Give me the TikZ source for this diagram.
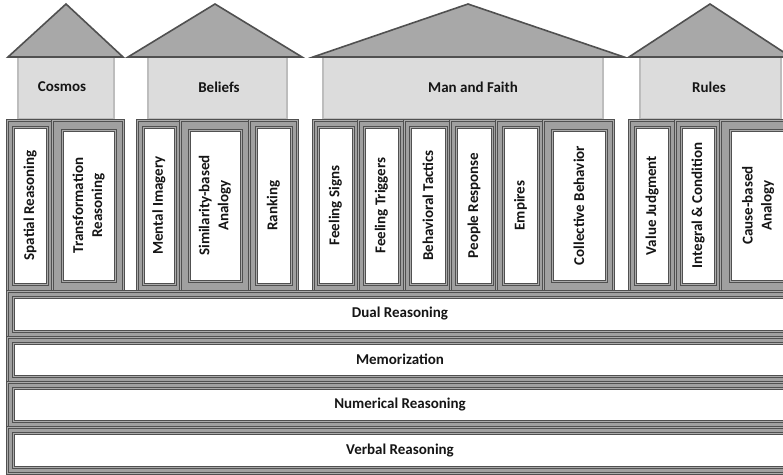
\documentclass[tikz,border=0pt]{standalone}
\usepackage{fontspec}
\setmainfont{Carlito}
\definecolor{roofc}{HTML}{A8A8A8}
\definecolor{edgec}{HTML}{505050}
\definecolor{bodyc}{HTML}{DCDCDC}
\definecolor{bodyedge}{HTML}{BDBDBD}
\definecolor{pillc}{HTML}{A0A0A0}
\definecolor{linec}{HTML}{ABABAB}
\definecolor{txtc}{HTML}{151515}
\tikzset{
  roof/.style={fill=roofc, draw=edgec, line width=1.6pt, line join=miter},
  housebody/.style={fill=bodyc, draw=bodyedge, line width=1.2pt},
  outerbox/.style={fill=pillc, draw=edgec, double=linec, double distance=1pt, line width=1pt},
  innerbox/.style={fill=white, draw=edgec, double=linec, double distance=1pt, line width=1pt},
  lbl/.style={font=\fontsize{15}{19}\selectfont\bfseries, text=txtc, align=center, inner sep=0pt},
}
\begin{document}
\begin{tikzpicture}[x=1pt,y=-1pt]
\clip (0,0) rectangle (783,474);
\fill[white] (0,0) rectangle (783,474);
% house bodies
\draw[housebody] (18,57) rectangle (114,119);
\draw[housebody] (148,57) rectangle (287,119);
\draw[housebody] (323,57) rectangle (603,119);
\draw[housebody] (640,57) rectangle (781,119);
% roofs
\draw[roof] (8,57) -- (66,4) -- (123,57) -- cycle;
\draw[roof] (128,57) -- (215,4) -- (302,57) -- cycle;
\draw[roof] (313,57) -- (468,4) -- (624,57) -- cycle;
\draw[roof] (629,57) -- (710,4) -- (791,57) -- cycle;
% house labels
\node[lbl] (cosmos) at (62,87) {Cosmos};
\node[lbl] (beliefs) at (219,87) {Beliefs};
\node[lbl] (manfaith) at (473,87) {Man and Faith};
\node[lbl] (rules) at (709,87) {Rules};
% pillar groups
\draw[outerbox] (7,120) rectangle (123,291);
\draw[outerbox] (137,120) rectangle (297,291);
\draw[outerbox] (313,120) rectangle (613,291);
\draw[outerbox] (629,120) rectangle (795,291);
% pillars
\foreach \n/\a/\b/\c/\d/\e/\f/\t in {
  spatial/7/52/13/47/127/284/{Spatial Reasoning},
  transf/52/123/62/115/130/281/{Transformation\\Reasoning},
  mental/137/180/143/175/127/284/{Mental Imagery},
  simil/180/249/189/241/130/281/{Similarity-based\\Analogy},
  ranking/249/297/256/291/127/284/{Ranking},
  fsigns/313/358/318/353/127/284/{Feeling Signs},
  ftrig/358/404/364/399/127/284/{Feeling Triggers},
  btact/404/450/410/446/127/284/{Behavioral Tactics},
  presp/450/496/456/492/127/284/{People Response},
  empires/496/543/503/538/127/284/{Empires},
  collect/543/613/552/606/130/281/{Collective Behavior},
  valj/629/675/635/669/127/284/{Value Judgment},
  integ/675/720/681/715/127/284/{Integral \& Condition},
  cause/720/795/730/786/130/281/{Cause-based\\Analogy}}
{
  \draw[outerbox] (\a,120) rectangle (\b,291);
  \draw[innerbox] (\c,\e) rectangle (\d,\f);
  \node[lbl, rotate=90] (\n) at ({(\c+\d)/2},{(\e+\f)/2}) {\t};
}
% slabs
\foreach \n/\a/\b/\t in {
  dual/291/337/{Dual Reasoning},
  memo/337/382/{Memorization},
  numer/382/427/{Numerical Reasoning},
  verbal/427/473/{Verbal Reasoning}}
{
  \draw[outerbox] (7,\a) rectangle (795,\b);
  \draw[innerbox] (13,\a+6) rectangle (788,\b-6);
  \node[lbl] (\n) at (400,{(\a+\b)/2}) {\t};
}
\end{tikzpicture}
\end{document}
